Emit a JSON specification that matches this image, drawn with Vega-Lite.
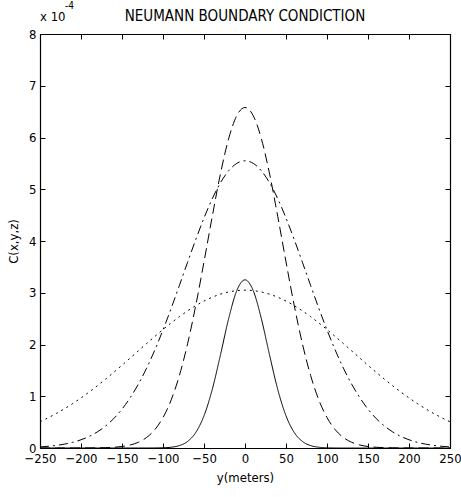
{
"$schema": "https://vega.github.io/schema/vega-lite/v6.json",
"autosize": "none",
"width": 410,
"height": 414,
"padding": {"left": 40, "top": 34, "right": 11, "bottom": 49},
"background": "white",
"config": {
  "font": "Liberation Sans",
  "view": {"stroke": null},
  "axis": {"domainColor": "#000", "tickColor": "#000", "labelColor": "#000", "titleColor": "#000", "grid": false, "tickSize": -5, "labelFont": "DejaVu Sans Condensed, Liberation Sans", "titleFont": "DejaVu Sans Condensed, Liberation Sans", "labelFontSize": 13, "titleFontSize": 13, "titleFontWeight": "normal", "domainWidth": 1.2}
},
"title": {"text": "NEUMANN BOUNDARY CONDICTION", "font": "DejaVu Sans Condensed, Liberation Sans", "fontSize": 15, "fontWeight": "normal", "color": "#000", "anchor": "middle", "frame": "group", "offset": -23},
"resolve": {"axis": {"x": "independent", "y": "independent"}},
"datasets": {
"curves": [
{"y":-250,"c":0,"s":"a"},{"y":-240,"c":0,"s":"a"},{"y":-230,"c":0,"s":"a"},{"y":-220,"c":0,"s":"a"},{"y":-210,"c":0,"s":"a"},{"y":-200,"c":0,"s":"a"},{"y":-190,"c":0,"s":"a"},{"y":-180,"c":0,"s":"a"},{"y":-170,"c":0,"s":"a"},{"y":-160,"c":0,"s":"a"},{"y":-150,"c":0,"s":"a"},{"y":-140,"c":0,"s":"a"},{"y":-130,"c":0,"s":"a"},{"y":-120,"c":0,"s":"a"},{"y":-110,"c":0.001,"s":"a"},{"y":-100,"c":0.004,"s":"a"},{"y":-90,"c":0.015,"s":"a"},{"y":-80,"c":0.047,"s":"a"},{"y":-70,"c":0.127,"s":"a"},{"y":-60,"c":0.301,"s":"a"},{"y":-50,"c":0.622,"s":"a"},{"y":-40,"c":1.128,"s":"a"},{"y":-30,"c":1.793,"s":"a"},{"y":-20,"c":2.495,"s":"a"},{"y":-10,"c":3.042,"s":"a"},{"y":0,"c":3.25,"s":"a"},{"y":10,"c":3.042,"s":"a"},{"y":20,"c":2.495,"s":"a"},{"y":30,"c":1.793,"s":"a"},{"y":40,"c":1.128,"s":"a"},{"y":50,"c":0.622,"s":"a"},{"y":60,"c":0.301,"s":"a"},{"y":70,"c":0.127,"s":"a"},{"y":80,"c":0.047,"s":"a"},{"y":90,"c":0.015,"s":"a"},{"y":100,"c":0.004,"s":"a"},{"y":110,"c":0.001,"s":"a"},{"y":120,"c":0,"s":"a"},{"y":130,"c":0,"s":"a"},{"y":140,"c":0,"s":"a"},{"y":150,"c":0,"s":"a"},{"y":160,"c":0,"s":"a"},{"y":170,"c":0,"s":"a"},{"y":180,"c":0,"s":"a"},{"y":190,"c":0,"s":"a"},{"y":200,"c":0,"s":"a"},{"y":210,"c":0,"s":"a"},{"y":220,"c":0,"s":"a"},{"y":230,"c":0,"s":"a"},{"y":240,"c":0,"s":"a"},{"y":250,"c":0,"s":"a"},
{"y":-250,"c":0,"s":"b"},{"y":-240,"c":0,"s":"b"},{"y":-230,"c":0,"s":"b"},{"y":-220,"c":0,"s":"b"},{"y":-210,"c":0,"s":"b"},{"y":-200,"c":0,"s":"b"},{"y":-190,"c":0.001,"s":"b"},{"y":-180,"c":0.003,"s":"b"},{"y":-170,"c":0.006,"s":"b"},{"y":-160,"c":0.014,"s":"b"},{"y":-150,"c":0.029,"s":"b"},{"y":-140,"c":0.058,"s":"b"},{"y":-130,"c":0.111,"s":"b"},{"y":-120,"c":0.203,"s":"b"},{"y":-110,"c":0.354,"s":"b"},{"y":-100,"c":0.588,"s":"b"},{"y":-90,"c":0.93,"s":"b"},{"y":-80,"c":1.402,"s":"b"},{"y":-70,"c":2.015,"s":"b"},{"y":-60,"c":2.758,"s":"b"},{"y":-50,"c":3.597,"s":"b"},{"y":-40,"c":4.47,"s":"b"},{"y":-30,"c":5.294,"s":"b"},{"y":-20,"c":5.974,"s":"b"},{"y":-10,"c":6.423,"s":"b"},{"y":0,"c":6.58,"s":"b"},{"y":10,"c":6.423,"s":"b"},{"y":20,"c":5.974,"s":"b"},{"y":30,"c":5.294,"s":"b"},{"y":40,"c":4.47,"s":"b"},{"y":50,"c":3.597,"s":"b"},{"y":60,"c":2.758,"s":"b"},{"y":70,"c":2.015,"s":"b"},{"y":80,"c":1.402,"s":"b"},{"y":90,"c":0.93,"s":"b"},{"y":100,"c":0.588,"s":"b"},{"y":110,"c":0.354,"s":"b"},{"y":120,"c":0.203,"s":"b"},{"y":130,"c":0.111,"s":"b"},{"y":140,"c":0.058,"s":"b"},{"y":150,"c":0.029,"s":"b"},{"y":160,"c":0.014,"s":"b"},{"y":170,"c":0.006,"s":"b"},{"y":180,"c":0.003,"s":"b"},{"y":190,"c":0.001,"s":"b"},{"y":200,"c":0,"s":"b"},{"y":210,"c":0,"s":"b"},{"y":220,"c":0,"s":"b"},{"y":230,"c":0,"s":"b"},{"y":240,"c":0,"s":"b"},{"y":250,"c":0,"s":"b"},
{"y":-250,"c":0.021,"s":"c"},{"y":-240,"c":0.033,"s":"c"},{"y":-230,"c":0.05,"s":"c"},{"y":-220,"c":0.075,"s":"c"},{"y":-210,"c":0.11,"s":"c"},{"y":-200,"c":0.159,"s":"c"},{"y":-190,"c":0.224,"s":"c"},{"y":-180,"c":0.312,"s":"c"},{"y":-170,"c":0.425,"s":"c"},{"y":-160,"c":0.57,"s":"c"},{"y":-150,"c":0.751,"s":"c"},{"y":-140,"c":0.972,"s":"c"},{"y":-130,"c":1.236,"s":"c"},{"y":-120,"c":1.543,"s":"c"},{"y":-110,"c":1.893,"s":"c"},{"y":-100,"c":2.282,"s":"c"},{"y":-90,"c":2.701,"s":"c"},{"y":-80,"c":3.142,"s":"c"},{"y":-70,"c":3.59,"s":"c"},{"y":-60,"c":4.03,"s":"c"},{"y":-50,"c":4.444,"s":"c"},{"y":-40,"c":4.814,"s":"c"},{"y":-30,"c":5.123,"s":"c"},{"y":-20,"c":5.356,"s":"c"},{"y":-10,"c":5.501,"s":"c"},{"y":0,"c":5.55,"s":"c"},{"y":10,"c":5.501,"s":"c"},{"y":20,"c":5.356,"s":"c"},{"y":30,"c":5.123,"s":"c"},{"y":40,"c":4.814,"s":"c"},{"y":50,"c":4.444,"s":"c"},{"y":60,"c":4.03,"s":"c"},{"y":70,"c":3.59,"s":"c"},{"y":80,"c":3.142,"s":"c"},{"y":90,"c":2.701,"s":"c"},{"y":100,"c":2.282,"s":"c"},{"y":110,"c":1.893,"s":"c"},{"y":120,"c":1.543,"s":"c"},{"y":130,"c":1.236,"s":"c"},{"y":140,"c":0.972,"s":"c"},{"y":150,"c":0.751,"s":"c"},{"y":160,"c":0.57,"s":"c"},{"y":170,"c":0.425,"s":"c"},{"y":180,"c":0.312,"s":"c"},{"y":190,"c":0.224,"s":"c"},{"y":200,"c":0.159,"s":"c"},{"y":210,"c":0.11,"s":"c"},{"y":220,"c":0.075,"s":"c"},{"y":230,"c":0.05,"s":"c"},{"y":240,"c":0.033,"s":"c"},{"y":250,"c":0.021,"s":"c"},
{"y":-250,"c":0.507,"s":"d"},{"y":-240,"c":0.584,"s":"d"},{"y":-230,"c":0.668,"s":"d"},{"y":-220,"c":0.761,"s":"d"},{"y":-210,"c":0.86,"s":"d"},{"y":-200,"c":0.968,"s":"d"},{"y":-190,"c":1.082,"s":"d"},{"y":-180,"c":1.204,"s":"d"},{"y":-170,"c":1.331,"s":"d"},{"y":-160,"c":1.463,"s":"d"},{"y":-150,"c":1.599,"s":"d"},{"y":-140,"c":1.738,"s":"d"},{"y":-130,"c":1.878,"s":"d"},{"y":-120,"c":2.018,"s":"d"},{"y":-110,"c":2.155,"s":"d"},{"y":-100,"c":2.289,"s":"d"},{"y":-90,"c":2.417,"s":"d"},{"y":-80,"c":2.538,"s":"d"},{"y":-70,"c":2.65,"s":"d"},{"y":-60,"c":2.751,"s":"d"},{"y":-50,"c":2.839,"s":"d"},{"y":-40,"c":2.913,"s":"d"},{"y":-30,"c":2.972,"s":"d"},{"y":-20,"c":3.015,"s":"d"},{"y":-10,"c":3.041,"s":"d"},{"y":0,"c":3.05,"s":"d"},{"y":10,"c":3.041,"s":"d"},{"y":20,"c":3.015,"s":"d"},{"y":30,"c":2.972,"s":"d"},{"y":40,"c":2.913,"s":"d"},{"y":50,"c":2.839,"s":"d"},{"y":60,"c":2.751,"s":"d"},{"y":70,"c":2.65,"s":"d"},{"y":80,"c":2.538,"s":"d"},{"y":90,"c":2.417,"s":"d"},{"y":100,"c":2.289,"s":"d"},{"y":110,"c":2.155,"s":"d"},{"y":120,"c":2.018,"s":"d"},{"y":130,"c":1.878,"s":"d"},{"y":140,"c":1.738,"s":"d"},{"y":150,"c":1.599,"s":"d"},{"y":160,"c":1.463,"s":"d"},{"y":170,"c":1.331,"s":"d"},{"y":180,"c":1.204,"s":"d"},{"y":190,"c":1.082,"s":"d"},{"y":200,"c":0.968,"s":"d"},{"y":210,"c":0.86,"s":"d"},{"y":220,"c":0.761,"s":"d"},{"y":230,"c":0.668,"s":"d"},{"y":240,"c":0.584,"s":"d"},{"y":250,"c":0.507,"s":"d"}
]
},
"data": {"name": "curves"},
"layer": [
  {
    "mark": {"type": "line", "color": "#000", "strokeWidth": 1, "interpolate": "monotone", "clip": true},
    "encoding": {
      "x": {"field": "y", "type": "quantitative", "scale": {"domain": [-250, 250], "nice": false, "zero": false},
            "axis": {"orient": "bottom", "values": [-250,-200,-150,-100,-50,0,50,100,150,200,250], "title": "y(meters)", "labelPadding": 9, "titlePadding": 6, "labelFlush": false, "labelOverlap": false}},
      "y": {"field": "c", "type": "quantitative", "scale": {"domain": [0, 8], "nice": false},
            "axis": {"orient": "left", "values": [0,1,2,3,4,5,6,7,8], "title": "C(x,y,z)", "labelPadding": 9, "titlePadding": 8, "labelFlush": false}},
      "strokeDash": {"field": "s", "type": "nominal", "legend": null,
            "scale": {"domain": ["a","b","c","d"], "range": [[1,0],[10,5],[9,4,2,4],[2,4]]}}
    }
  },
  {
    "mark": {"type": "line", "opacity": 0},
    "encoding": {
      "x": {"field": "y", "type": "quantitative", "axis": {"orient": "top", "values": [-250,-200,-150,-100,-50,0,50,100,150,200,250], "labels": false, "title": null}},
      "y": {"field": "c", "type": "quantitative", "axis": {"orient": "right", "values": [0,1,2,3,4,5,6,7,8], "labels": false, "title": null}},
      "detail": {"field": "s"}
    }
  },
  {
    "data": {"values": [{"label": "x 10"}]},
    "mark": {"type": "text", "align": "left", "baseline": "alphabetic", "dy": -13, "dx": 0, "fontSize": 13, "fontWeight": "normal", "font": "DejaVu Sans Condensed, Liberation Sans", "color": "#000"},
    "encoding": {"text": {"field": "label"}, "x": {"datum": -250, "type": "quantitative", "axis": null}, "y": {"datum": 8, "type": "quantitative", "axis": null}}
  },
  {
    "data": {"values": [{"label": "-4"}]},
    "mark": {"type": "text", "align": "left", "baseline": "alphabetic", "dy": -25, "dx": 25, "fontSize": 10, "fontWeight": "normal", "font": "DejaVu Sans Condensed, Liberation Sans", "color": "#000"},
    "encoding": {"text": {"field": "label"}, "x": {"datum": -250, "type": "quantitative", "axis": null}, "y": {"datum": 8, "type": "quantitative", "axis": null}}
  }
]
}
